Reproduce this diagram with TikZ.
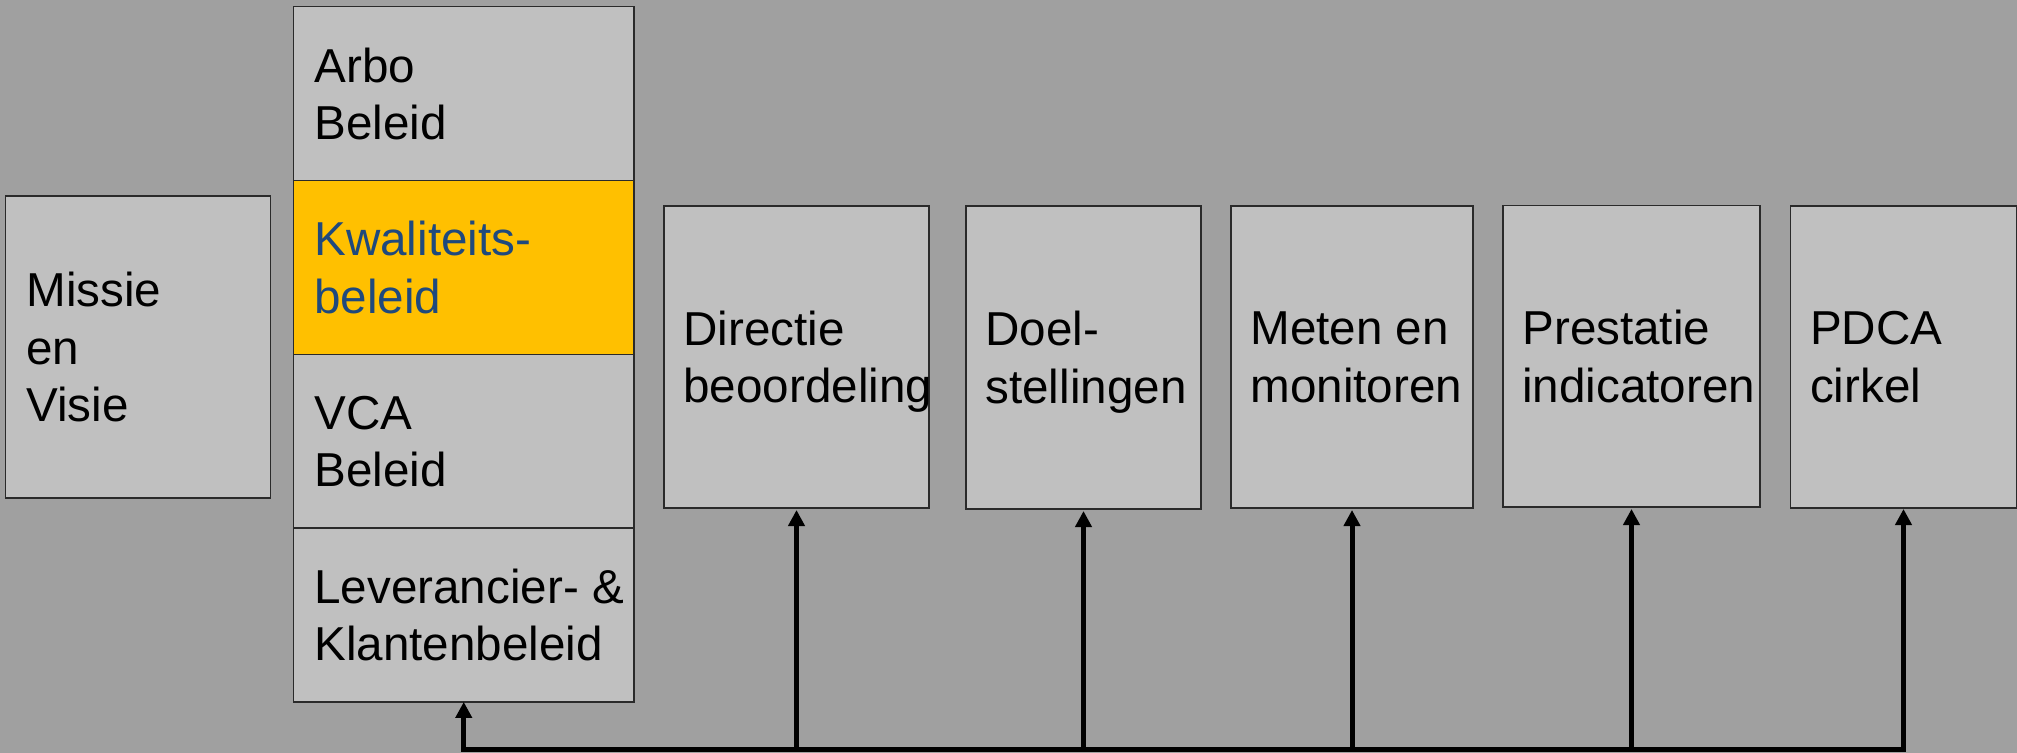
\documentclass[tikz,border=0pt]{standalone}
\usepackage{fontspec}
\setmainfont{Liberation Sans}
\usetikzlibrary{arrows.meta}
\definecolor{bg}{HTML}{A0A0A0}
\definecolor{boxgray}{HTML}{C0C0C0}
\definecolor{kgold}{HTML}{FFC000}
\definecolor{kblue}{HTML}{1F497D}
\definecolor{edge}{HTML}{2A2A2A}
\tikzset{
  panel/.style={draw=edge, line width=0.65pt, fill=boxgray, anchor=north west, inner sep=0pt, outer sep=0pt},
  txt/.style={anchor=west, align=left, inner sep=0pt, text depth=0pt, font=\fontsize{23.8pt}{28.75pt}\selectfont},
  conn/.style={line width=2.5pt, draw=black},
  tipup/.style={-{Triangle[width=8pt,length=8pt]}, shorten >=1pt}
}
\begin{document}
\begin{tikzpicture}[x=1pt,y=1pt]
\fill[bg] (0,0) rectangle (1008.5,-376.5);
\useasboundingbox (0,0) rectangle (1008.5,-376.5);

% Missie en Visie
\node[panel, minimum width=132.5pt, minimum height=151pt] (missie) at (2.75,-98) {};
\node[txt] (missieT) at ([xshift=10.25pt]missie.west) {Missie\\en\\Visie};

% stacked policies
\node[panel, minimum width=170.25pt, minimum height=86.9pt] (arbo) at (146.75,-3.35) {};
\node[panel, fill=kgold, minimum width=170.25pt, minimum height=86.9pt] (kwal) at (arbo.south west) {};
\node[panel, minimum width=170.25pt, minimum height=86.9pt] (vca) at (kwal.south west) {};
\node[panel, minimum width=170.25pt, minimum height=86.9pt] (lev) at (vca.south west) {};
\node[txt] (arboT) at ([xshift=10.25pt]arbo.west) {Arbo\\Beleid};
\node[txt, text=kblue] (kwalT) at ([xshift=10.25pt]kwal.west) {Kwaliteits-\\beleid};
\node[txt] (vcaT) at ([xshift=10.25pt]vca.west) {VCA\\Beleid};
\node[txt] (levT) at ([xshift=10.25pt]lev.west) {Leverancier- \&\\Klantenbeleid};

% right boxes
\node[panel, minimum width=132.5pt, minimum height=151pt] (dir) at (332,-103) {};
\node[panel, minimum width=117.5pt, minimum height=151.5pt] (doel) at (483,-103) {};
\node[panel, minimum width=121pt, minimum height=151pt] (meten) at (615.5,-103) {};
\node[panel, minimum width=128.5pt, minimum height=150.7pt] (prest) at (751.5,-102.8) {};
\node[panel, minimum width=112.9pt, minimum height=151pt] (pdca) at (895.3,-103) {};
\node[txt] (dirT) at ([xshift=9.5pt]dir.west) {Directie\\beoordeling};
\node[txt] (doelT) at ([xshift=9.5pt]doel.west) {Doel-\\stellingen};
\node[txt] (metenT) at ([xshift=9.5pt]meten.west) {Meten en\\monitoren};
\node[txt] (prestT) at ([xshift=9.5pt]prest.west) {Prestatie\\indicatoren};
\node[txt] (pdcaT) at ([xshift=9.5pt]pdca.west) {PDCA\\cirkel};

% connectors
\coordinate (bus) at (0,-374.75);
\draw[conn, line join=miter, {Triangle[width=8pt,length=8pt]}-{Triangle[width=8pt,length=8pt]}, shorten <=0.5pt]
  (pdca.south) -- (pdca.south |- bus) -- (lev.south |- bus) -- (lev.south);
\draw[conn, tipup] (dir.south |- bus) -- (dir.south);
\draw[conn, tipup] (doel.south |- bus) -- (doel.south);
\draw[conn, tipup] (meten.south |- bus) -- (meten.south);
\draw[conn, tipup] (prest.south |- bus) -- (prest.south);
\end{tikzpicture}
\end{document}
